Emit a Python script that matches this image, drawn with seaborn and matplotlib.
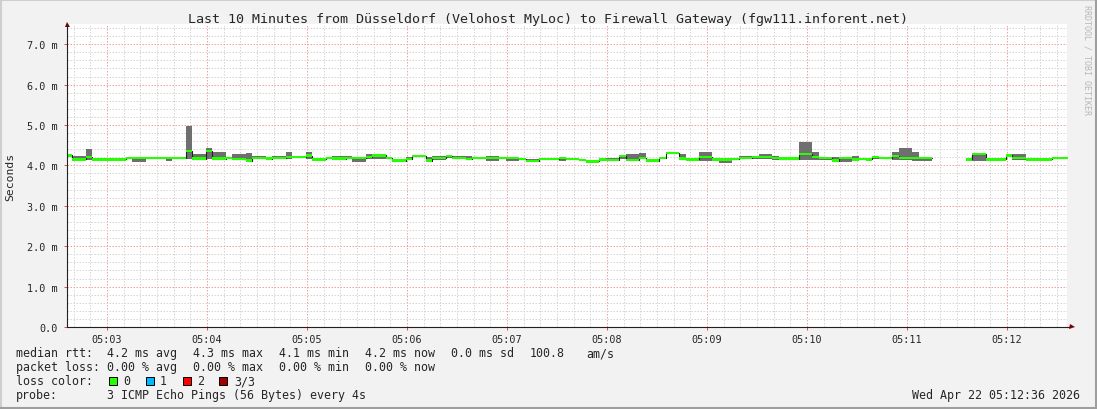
import numpy as np
import pandas as pd
import matplotlib
matplotlib.use("Agg")
import matplotlib.pyplot as plt
import matplotlib.ticker as mticker
from matplotlib.patches import Rectangle
from matplotlib.lines import Line2D
import seaborn as sns

# time window of the graph
start_time = pd.Timestamp("2026-04-22 05:02:36")
end_time = pd.Timestamp("2026-04-22 05:12:36")
step_s = 4            # one probe round every 4 s
first_offset_s = -0.8  # first step starts slightly before the left edge

# run-length data: number of 4 s steps, median / lowest / highest ping (ms)
seg_slots = [1, 2, 1, 5, 1, 2, 1, 2, 1, 2, 1, 2, 1, 2, 1, 2, 1, 2,
             1, 2, 1, 2, 1, 2, 1, 2, 1, 2, 1, 2, 1, 2, 1, 2, 1, 2, 1, 2,
             1, 2, 2, 1, 2, 1, 2, 3, 1, 2, 1, 2, 1, 2, 1, 2, 1, 2, 1,
             2, 1, 2, 2, 1, 2, 1, 2, 1, 2, 1, 3, 2, 1, 2, 1, 2, 1, 1,
             1, 1, 2, 1, 2, 1, 2, 5, 1, 2, 3, 1, 2, 1, 3, 3]
median_ms = [4.25, 4.15, 4.21, 4.15, 4.19, 4.18, 4.19, 4.18, 4.19, 4.19, 4.35, 4.17, 4.35, 4.17, 4.19, 4.16, 4.12, 4.18,
             4.17, 4.18, 4.21, 4.21, 4.24, 4.15, 4.19, 4.17, 4.19, 4.19, 4.21, 4.25, 4.19, 4.12, 4.16, 4.23, 4.12, 4.19, 4.23, 4.18,
             4.16, 4.18, 4.18, 4.18, 4.18, 4.16, 4.11, 4.16, 4.19, 4.16, 4.13, 4.10, 4.15, 4.13, 4.23, 4.13, 4.19, 4.12, 4.18,
             4.30, 4.17, 4.15, 4.21, 4.15, 4.15, 4.16, 4.18, 4.21, 4.21, 4.18, 4.17, 4.28, 4.21, 4.19, 4.12, 4.19, 4.15, 4.16,
             4.15, 4.21, 4.18, 4.23, 4.19, 4.18, 4.18, np.nan, 4.15, 4.28, 4.15, 4.25, 4.19, 4.15, 4.15, 4.19]
low_ms = [4.24, 4.14, 4.13, 4.14, 4.18, 4.08, 4.16, 4.17, 4.10, 4.18, 4.17, 4.16, 4.17, 4.16, 4.18, 4.16, 4.10, 4.16,
          4.16, 4.16, 4.16, 4.20, 4.16, 4.10, 4.16, 4.13, 4.16, 4.08, 4.16, 4.16, 4.16, 4.11, 4.16, 4.22, 4.10, 4.13, 4.19, 4.16,
          4.13, 4.17, 4.10, 4.17, 4.10, 4.15, 4.08, 4.15, 4.10, 4.15, 4.10, 4.08, 4.13, 4.10, 4.16, 4.10, 4.16, 4.11, 4.17,
          4.29, 4.16, 4.14, 4.10, 4.14, 4.06, 4.15, 4.16, 4.16, 4.16, 4.13, 4.13, 4.14, 4.13, 4.13, 4.10, 4.08, 4.10, 4.15,
          4.13, 4.16, 4.17, 4.13, 4.13, 4.10, 4.10, np.nan, 4.14, 4.10, 4.10, 4.22, 4.13, 4.10, 4.14, 4.18]
high_ms = [4.26, 4.24, 4.40, 4.16, 4.20, 4.21, 4.21, 4.19, 4.21, 4.20, 4.97, 4.28, 4.42, 4.33, 4.20, 4.28, 4.30, 4.24,
           4.18, 4.24, 4.32, 4.22, 4.32, 4.18, 4.21, 4.24, 4.24, 4.21, 4.29, 4.27, 4.21, 4.13, 4.21, 4.24, 4.20, 4.24, 4.24, 4.24,
           4.24, 4.19, 4.24, 4.19, 4.21, 4.17, 4.16, 4.17, 4.21, 4.17, 4.16, 4.14, 4.18, 4.18, 4.24, 4.28, 4.30, 4.13, 4.19,
           4.31, 4.27, 4.16, 4.33, 4.16, 4.19, 4.17, 4.24, 4.24, 4.27, 4.24, 4.18, 4.57, 4.33, 4.21, 4.21, 4.21, 4.24, 4.17,
           4.19, 4.24, 4.19, 4.33, 4.42, 4.33, 4.19, np.nan, 4.16, 4.30, 4.19, 4.26, 4.29, 4.19, 4.16, 4.20]

title = "Last 10 Minutes from Düsseldorf (Velohost MyLoc) to Firewall Gateway (fgw111.inforent.net)"
rtt_fields = ["4.2 ms avg", "4.3 ms max", "4.1 ms min", "4.2 ms now", "0.0 ms sd", "100.8", "am/s"]
loss_fields = ["0.00 % avg", "0.00 % max", "0.00 % min", "0.00 % now"]
loss_labels = ["0", "1", "2", "3/3"]
loss_colors = ["#26ff00", "#00b8ff", "#ff0000", "#a00000"]
probe_text = "3 ICMP Echo Pings (56 Bytes) every 4s"
stamp_text = "Wed Apr 22 05:12:36 2026"

# expand the runs to 4 s steps
med = np.repeat(median_ms, seg_slots)
lo = np.repeat(low_ms, seg_slots)
hi = np.repeat(high_ms, seg_slots)
edges = first_offset_s + step_s * np.arange(len(med) + 1)

valid_idx = np.flatnonzero(~np.isnan(med))
blocks = np.split(valid_idx, np.flatnonzero(np.diff(valid_idx) > 1) + 1)
frames = []
for b, idx in enumerate(blocks):
    s, e = idx[0], idx[-1] + 1
    frames.append(pd.DataFrame({
        "t": edges[s:e + 1],
        "median": np.append(med[s:e], med[e - 1]),
        "lo": np.append(lo[s:e], lo[e - 1]),
        "hi": np.append(hi[s:e], hi[e - 1]),
        "block": b,
    }))
df = pd.concat(frames, ignore_index=True)

sns.set_style("white")
plt.rcParams["font.family"] = ["DejaVu Sans Mono"]

W, H = 1097, 410
fig = plt.figure(figsize=(W / 100, H / 100), dpi=100, facecolor="#f2f2f2")
ax = fig.add_axes([67 / W, 1 - 328 / H, 1000 / W, 303 / H])
ax.set_facecolor("white")

# smoke, median line, loss colour band
for b, g in df.groupby("block"):
    ax.fill_between(g["t"], g["lo"], g["hi"], step="post", color="#6f6f6f", lw=0, zorder=2)
sns.lineplot(data=df, x="t", y="median", units="block", estimator=None,
             drawstyle="steps-post", color="#202020", lw=0.8, ax=ax, zorder=3)
for b, g in df.groupby("block"):
    ax.fill_between(g["t"], g["median"] - 0.03, g["median"] + 0.03, step="post",
                    color=loss_colors[0], lw=0, zorder=4)

total_s = (end_time - start_time).total_seconds()
ax.set_xlim(0, total_s)
ax.set_ylim(0, 7.5)

# axes ticks / grid
tick_times = pd.date_range("2026-04-22 05:03", "2026-04-22 05:12", freq="min")
major_x = (tick_times - start_time).total_seconds()
ax.set_xticks(major_x)
ax.set_xticklabels([t.strftime("%H:%M") for t in tick_times])
minor_x = [x for x in np.arange(4, total_s, 10) if min(abs(x - major_x)) > 1]
ax.xaxis.set_minor_locator(mticker.FixedLocator(minor_x))
ax.set_yticks(np.arange(0, 7.01, 1.0))
ax.yaxis.set_major_formatter(mticker.FuncFormatter(lambda v, p: f"{v:.1f}" if v == 0 else f"{v:.1f} m"))
minor_y = [y for y in np.arange(0.2, 7.5, 0.2) if abs(y - round(y)) > 0.05]
ax.yaxis.set_minor_locator(mticker.FixedLocator(minor_y))

ax.set_axisbelow(True)
ax.grid(which="minor", color="#d6d6d6", lw=0.72, ls=(0, (1.5, 1.5)))
ax.grid(which="major", color="#f2a4a4", lw=0.72, ls=(0, (1.5, 1.5)))
ax.tick_params(which="major", direction="out", length=2, width=0.7, color="#de4f4f",
               labelsize=7.3, pad=3, left=True, bottom=True)
ax.tick_params(which="minor", length=0)
ax.tick_params(axis="y", pad=4.5)
ax.set_xlabel("")
ax.set_ylabel("Seconds", fontsize=8.2)
ax.yaxis.set_label_coords(-52 / 1000, 0.5)

for side in ["top", "right"]:
    ax.spines[side].set_visible(False)
for side in ["left", "bottom"]:
    ax.spines[side].set_color("#212121")
    ax.spines[side].set_linewidth(0.8)
    ax.spines[side].set_zorder(6)
ax.plot([1.0, 1.004], [0, 0], transform=ax.transAxes, color="#212121", lw=0.8, clip_on=False)
ax.plot([1.0045], [0], transform=ax.transAxes, marker=">", ms=3.6, color="#800000", mew=0, clip_on=False)
ax.plot([0], [1.0], transform=ax.transAxes, marker="^", ms=3.6, color="#800000", mew=0, clip_on=False)

# title and side texts
fig.text(548.5 / W, 1 - 19 / H, title, ha="center", va="center", fontsize=9.6)
fig.text(1087 / W, 1 - 60 / H, "RRDTOOL / TOBI OETIKER", rotation=270, ha="center", va="center",
         fontsize=6.0, color="#b8b8b8")

# legend block
fs = 8.4
rows_y = [354, 368, 382, 396]
fig.text(16 / W, 1 - rows_y[0] / H, "median rtt:", va="center", fontsize=fs)
for x, s in zip([107, 193, 279, 365, 451, 530, 586], rtt_fields):
    fig.text(x / W, 1 - rows_y[0] / H, s, va="center", fontsize=fs)
fig.text(16 / W, 1 - rows_y[1] / H, "packet loss:", va="center", fontsize=fs)
for x, s in zip([107, 193, 279, 365], loss_fields):
    fig.text(x / W, 1 - rows_y[1] / H, s, va="center", fontsize=fs)
fig.text(16 / W, 1 - rows_y[2] / H, "loss color:", va="center", fontsize=fs)
for bx, tx, lab, col in zip([109, 146, 183, 219], [123, 160, 197, 234], loss_labels, loss_colors):
    fig.add_artist(Rectangle((bx / W, 1 - (rows_y[2] + 4) / H), 8 / W, 8 / H,
                             transform=fig.transFigure, facecolor=col, edgecolor="black", lw=0.7))
    fig.text(tx / W, 1 - rows_y[2] / H, lab, va="center", fontsize=fs)
fig.text(16 / W, 1 - rows_y[3] / H, "probe:", va="center", fontsize=fs)
fig.text(107 / W, 1 - rows_y[3] / H, probe_text, va="center", fontsize=fs)
fig.text(1080 / W, 1 - rows_y[3] / H, stamp_text, ha="right", va="center", fontsize=fs)

# 3d frame around the image
fig.add_artist(Line2D([0, 1], [1 - 1 / H, 1 - 1 / H], transform=fig.transFigure, color="#cfcfcf", lw=1.5))
fig.add_artist(Line2D([1 / W, 1 / W], [0, 1], transform=fig.transFigure, color="#cfcfcf", lw=1.5))
fig.add_artist(Line2D([0, 1], [1 / H, 1 / H], transform=fig.transFigure, color="#9e9e9e", lw=1.5))
fig.add_artist(Line2D([1 - 1 / W, 1 - 1 / W], [0, 1], transform=fig.transFigure, color="#9e9e9e", lw=1.5))

fig.savefig("out.png", dpi=100, facecolor=fig.get_facecolor())
